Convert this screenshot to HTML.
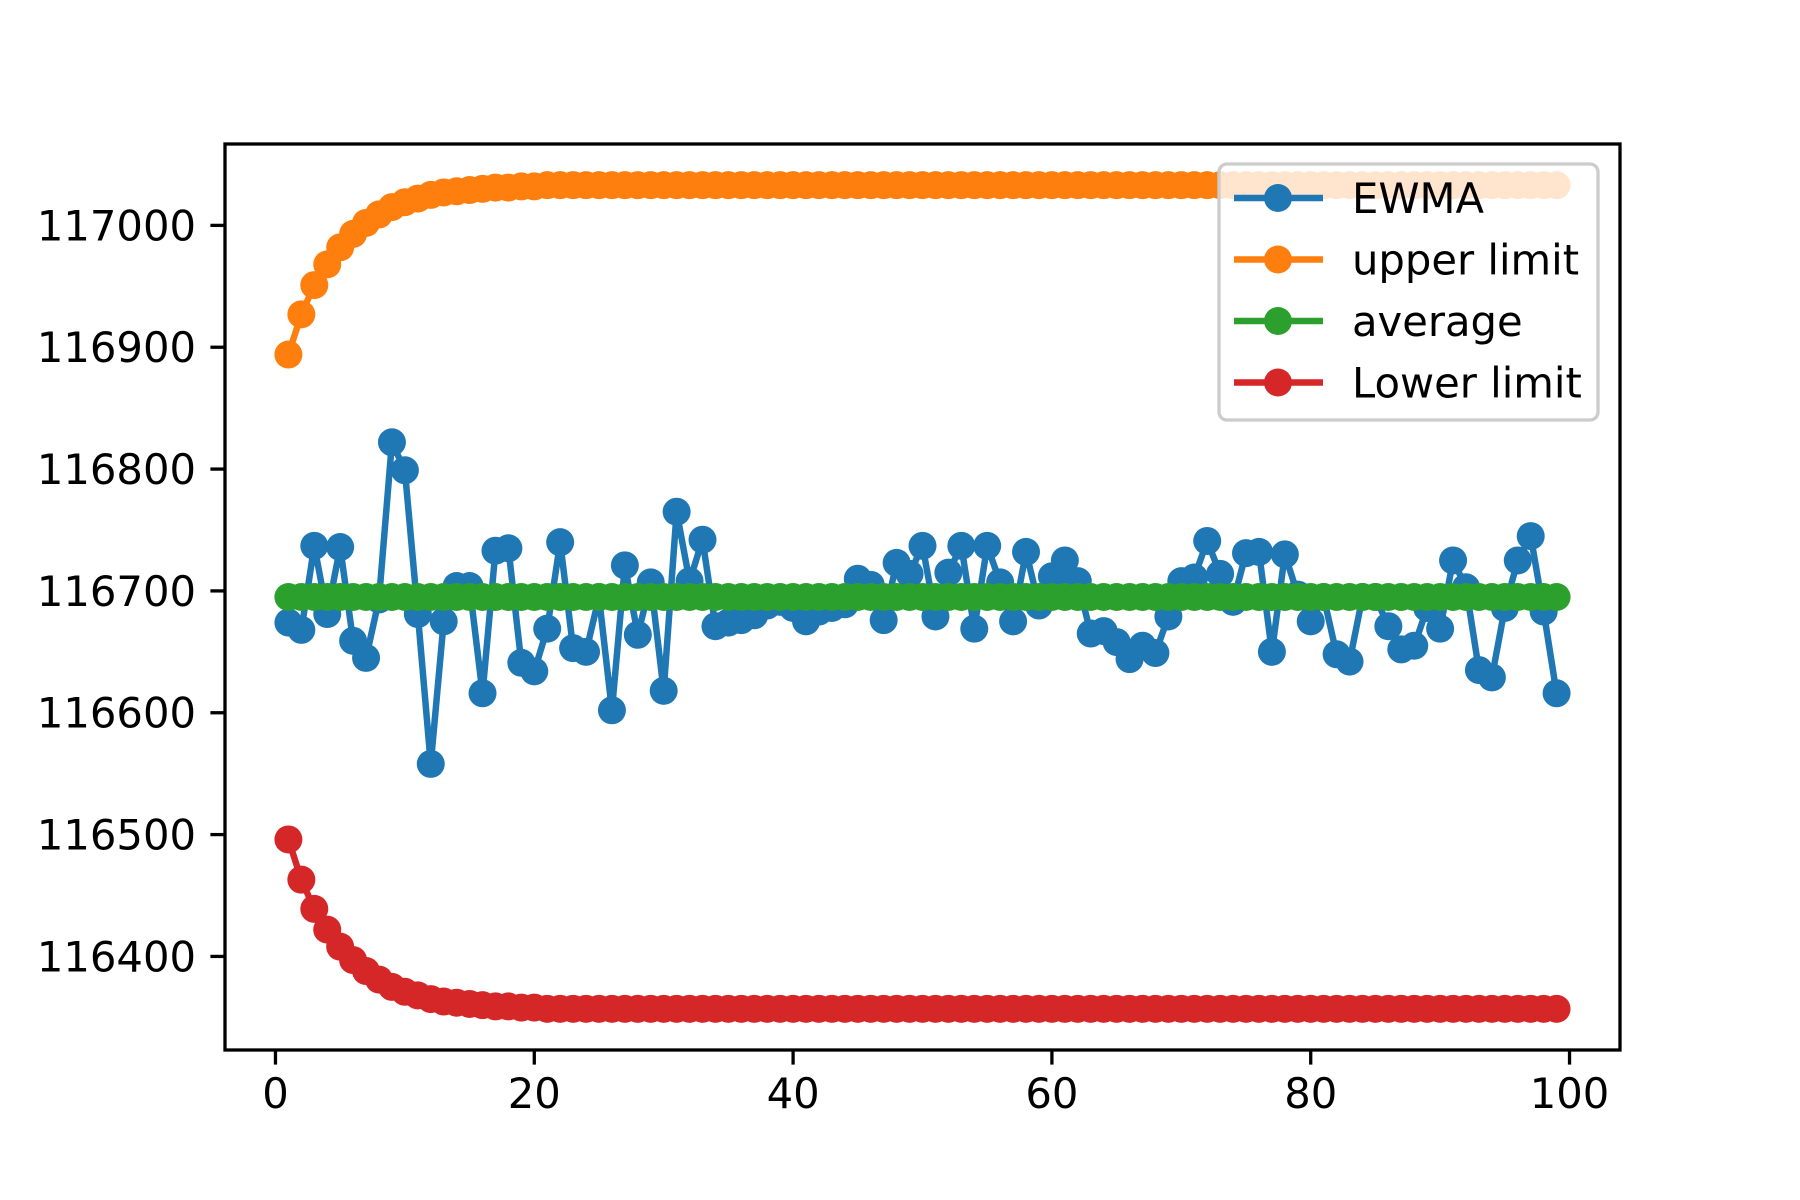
<!DOCTYPE html>
<html><head><meta charset="utf-8"><style>
html,body{margin:0;padding:0;background:#fff;}
svg{display:block;font-family:"DejaVu Sans","Liberation Sans",sans-serif;}
</style></head>
<body>
<svg id="chart" width="1800" height="1200" viewBox="0 0 1800 1200" xmlns="http://www.w3.org/2000/svg"></svg>
<script>
const ewmaValues=[116674,116668,116737,116681,116736,116659,116645,116693,116822,116799,116681,116558,116675,116704,116704,116616,116733,116735,116641,116634,116669,116740,116653,116650,116695,116602,116721,116664,116707,116618,116765,116708,116742,116671,116674,116676,116680,116688,116691,116686,116675,116683,116686,116689,116710,116705,116676,116723,116714,116737,116679,116715,116737,116669,116737,116707,116675,116732,116688,116712,116725,116708,116665,116667,116658,116644,116655,116649,116679,116708,116711,116741,116714,116691,116731,116732,116650,116730,116697,116675,116695,116648,116642,116695,116695,116671,116652,116655,116686,116669,116725,116703,116635,116629,116686,116725,116745,116683,116616];
const upperHead=[116894,116927,116951,116968,116982,116993,117002,117009,117015,117019,117022,117025,117027,117028,117029,117030,117031,117031,117032,117032];
const lowerHead=[116496,116463,116439,116422,116408,116397,116388,116381,116375,116371,116368,116365,116363,116362,116361,116360,116359,116359,116358,116358];
const upperSteady=117033;
const lowerSteady=116357;
const averageValue=116695;
const xTicks=[0,20,40,60,80,100];
const yTicks=[116400,116500,116600,116700,116800,116900,117000];
const seriesNames=["EWMA","upper limit","average","Lower limit"];
const seriesColors=["#1f77b4","#ff7f0e","#2ca02c","#d62728"];

const n=ewmaValues.length;
const xs=ewmaValues.map((_,i)=>i+1);
const upper=xs.map((_,i)=>i<upperHead.length?upperHead[i]:upperSteady);
const lower=xs.map((_,i)=>i<lowerHead.length?lowerHead[i]:lowerSteady);
const avg=xs.map(()=>averageValue);

const L=225,R=1620,T=144,B=1050;
const xmin=1-(n-1)*0.05, xmax=n+(n-1)*0.05;
const allY=ewmaValues.concat(upper,lower,avg);
const ylo=Math.min(...allY), yhi=Math.max(...allY), yr=yhi-ylo;
const ymin=ylo-yr*0.05, ymax=yhi+yr*0.05;
const X=v=>L+(v-xmin)/(xmax-xmin)*(R-L);
const Y=v=>B-(v-ymin)/(ymax-ymin)*(B-T);
const MR=14;

const svg=document.getElementById('chart');
const NS="http://www.w3.org/2000/svg";
function mk(tag,attrs,parent){const e=document.createElementNS(NS,tag);for(const k in attrs)e.setAttribute(k,attrs[k]);(parent||svg).appendChild(e);return e;}

const clip=mk('clipPath',{id:'clip'});mk('rect',{x:L,y:T,width:R-L,height:B-T},clip);

const series=[ewmaValues,upper,avg,lower];
const keys=["ewma","upper-limit","average","lower-limit"];
series.forEach((vals,s)=>{
  const g=mk('g',{'clip-path':'url(#clip)'});
  
  
  const pts=vals.map((v,i)=>X(xs[i]).toFixed(2)+','+Y(v).toFixed(2)).join(' ');
  const pl=mk('polyline',{points:pts,fill:'none',stroke:seriesColors[s],'stroke-width':6.5,'stroke-linejoin':'round','stroke-linecap':'square'},g);
  
  
  vals.forEach((v,i)=>{
    const c=mk('circle',{cx:X(xs[i]),cy:Y(v),r:MR,fill:seriesColors[s]},g);
    
    
  });
});

const frame=mk('rect',{x:L,y:T,width:R-L,height:B-T,fill:'none',stroke:'#000','stroke-width':3.3});



xTicks.forEach(t=>{
  const x=X(t);
  const tk=mk('line',{x1:x,x2:x,y1:B,y2:B+14.6,stroke:'#000','stroke-width':3.3});
  
  
  const tx=mk('text',{x:x,y:B+58,'text-anchor':'middle','font-size':41.7,fill:'#000'});
  tx.textContent=t;
  
  
});
yTicks.forEach(t=>{
  const y=Y(t);
  const tk=mk('line',{x1:L-14.6,x2:L,y1:y,y2:y,stroke:'#000','stroke-width':3.3});
  
  
  const tx=mk('text',{x:L-29,y:y+15,'text-anchor':'end','font-size':41.7,fill:'#000'});
  tx.textContent=t;
  
  
});

const lg=mk('g',{});


const lx=1219,ly=164,lw=379,lh=256;
const box=mk('rect',{x:lx,y:ly,width:lw,height:lh,rx:8,fill:'rgba(255,255,255,0.8)',stroke:'#cccccc','stroke-width':3.3},lg);


seriesNames.forEach((name,i)=>{
  const y=ly+34+i*61.5;
  const e=mk('g',{},lg);
  
  
  mk('line',{x1:lx+15,x2:lx+104,y1:y,y2:y,stroke:seriesColors[i],'stroke-width':6.5},e);
  mk('circle',{cx:lx+59,cy:y,r:MR,fill:seriesColors[i]},e);
  const t=mk('text',{x:lx+133,y:y+15,'font-size':41.7,fill:'#000'},e);
  t.textContent=name;
});
</script>
</body></html>
